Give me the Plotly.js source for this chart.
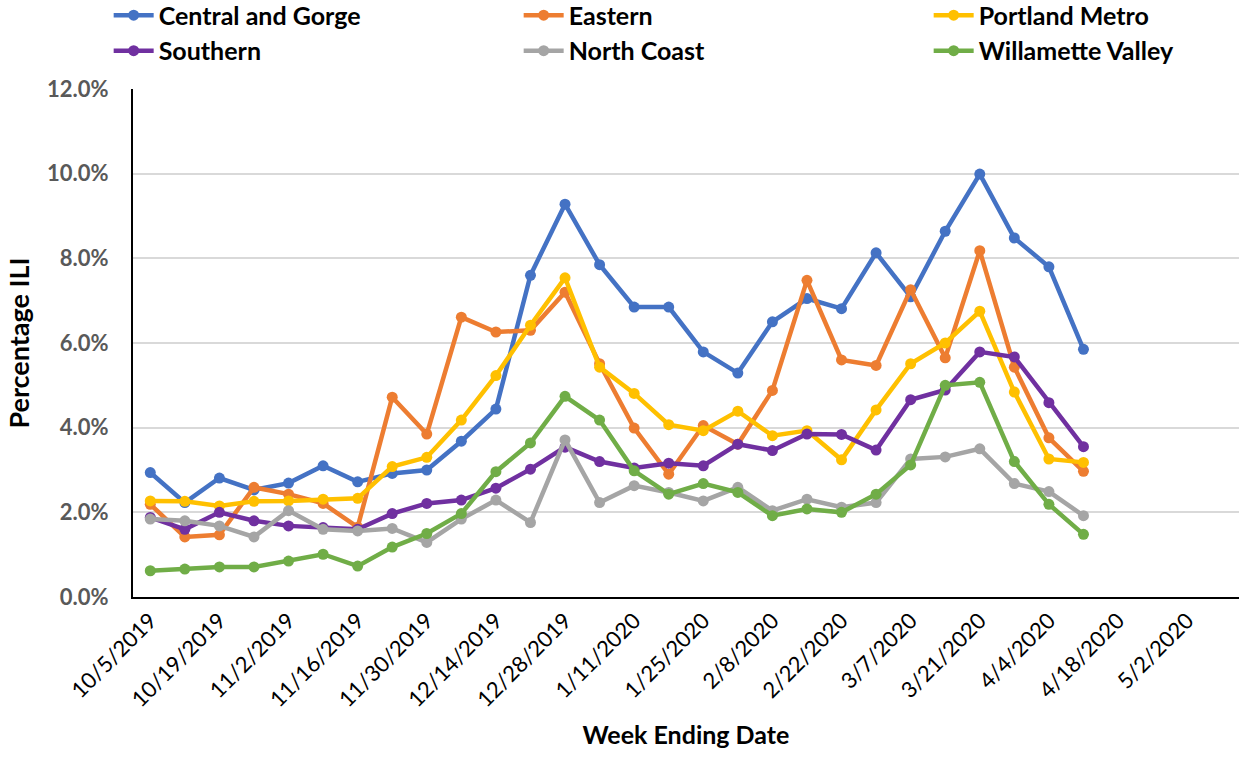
<!DOCTYPE html>
<html>
<head>
<meta charset="utf-8">
<script src="https://cdn.plot.ly/plotly-3.0.1.min.js"></script>
<style>html,body{margin:0;padding:0;background:#fff;}#chart{width:1239px;height:757px;}</style>
</head>
<body>
<div id="chart"></div>
<script>
const weeks = ["2019-10-05","2019-10-12","2019-10-19","2019-10-26","2019-11-02","2019-11-09","2019-11-16","2019-11-23","2019-11-30","2019-12-07","2019-12-14","2019-12-21","2019-12-28","2020-01-04","2020-01-11","2020-01-18","2020-01-25","2020-02-01","2020-02-08","2020-02-15","2020-02-22","2020-02-29","2020-03-07","2020-03-14","2020-03-21","2020-03-28","2020-04-04","2020-04-11"];

const centralGorge = [2.94,2.23,2.81,2.53,2.69,3.10,2.72,2.92,3.00,3.68,4.44,7.60,9.28,7.85,6.85,6.85,5.79,5.29,6.50,7.05,6.81,8.13,7.09,8.64,9.99,8.48,7.80,5.85];
const eastern      = [2.19,1.42,1.47,2.59,2.43,2.21,1.65,4.72,3.85,6.61,6.26,6.30,7.20,5.51,3.99,2.90,4.05,3.61,4.88,7.48,5.60,5.47,7.26,5.65,8.18,5.43,3.76,2.97];
const portlandMetro= [2.27,2.26,2.15,2.26,2.27,2.31,2.33,3.08,3.30,4.18,5.23,6.42,7.54,5.43,4.81,4.07,3.93,4.39,3.81,3.93,3.24,4.42,5.51,6.00,6.75,4.84,3.26,3.18];
const southern     = [1.88,1.60,2.00,1.80,1.68,1.64,1.60,1.97,2.21,2.29,2.57,3.02,3.54,3.20,3.05,3.16,3.10,3.61,3.46,3.85,3.84,3.47,4.66,4.89,5.79,5.67,4.59,3.55];
const northCoast   = [1.84,1.80,1.68,1.42,2.04,1.60,1.56,1.62,1.29,1.84,2.29,1.76,3.71,2.23,2.63,2.47,2.27,2.59,2.04,2.31,2.12,2.23,3.26,3.31,3.50,2.68,2.49,1.92];
const willamette   = [0.62,0.66,0.71,0.71,0.85,1.01,0.73,1.18,1.50,1.97,2.96,3.64,4.74,4.18,2.98,2.43,2.68,2.47,1.92,2.08,2.00,2.43,3.12,5.00,5.07,3.20,2.19,1.48];

const tickDates = ["2019-10-05","2019-10-19","2019-11-02","2019-11-16","2019-11-30","2019-12-14","2019-12-28","2020-01-11","2020-01-25","2020-02-08","2020-02-22","2020-03-07","2020-03-21","2020-04-04","2020-04-18","2020-05-02"];
const tickLabels = ["10/5/2019","10/19/2019","11/2/2019","11/16/2019","11/30/2019","12/14/2019","12/28/2019","1/11/2020","1/25/2020","2/8/2020","2/22/2020","3/7/2020","3/21/2020","4/4/2020","4/18/2020","5/2/2020"];
const yTicks = [0,2,4,6,8,10,12];
const yTickLabels = ["0.0%","2.0%","4.0%","6.0%","8.0%","10.0%","12.0%"];

const seriesNames = ["Central and Gorge","Eastern","Portland Metro","Southern","North Coast","Willamette Valley"];
const seriesData = [centralGorge, eastern, portlandMetro, southern, northCoast, willamette];
const colors = ["#4472C4","#ED7D31","#FFC000","#7030A0","#A5A5A5","#70AD47"];

const traces = seriesNames.map((n,i)=>({
  type:'scatter', mode:'lines+markers', name:n, x:weeks, y:seriesData[i],
  line:{color:colors[i], width:4.5},
  marker:{color:colors[i], size:11}
}));

const layout = {
  width:1239, height:757,
  margin:{l:133, r:0, t:89, b:160, autoexpand:false},
  paper_bgcolor:'#fff', plot_bgcolor:'#fff',
  font:{family:'Lato, "Open Sans", sans-serif'},
  showlegend:true,
  legend:{orientation:'h', x:-0.022, xanchor:'left', y:1.19, yanchor:'top',
    font:{size:25, color:'#000', family:'Lato, sans-serif', weight:'bold'},
    entrywidth:355, itemwidth:40, tracegroupgap:0, bgcolor:'rgba(0,0,0,0)'},
  xaxis:{type:'date', range:['2019-10-01 12:00','2020-05-12 12:00'],
    tickvals:tickDates, ticktext:tickLabels, tickangle:-45,
    tickfont:{size:22, color:'#000'},
    showgrid:false, showline:true, linecolor:'#000', linewidth:2, zeroline:false,
    ticks:'', title:{text:'Week Ending Date', font:{size:25, color:'#000', weight:'bold'}, standoff:16}},
  yaxis:{range:[0,12], tickvals:yTicks, ticktext:yTickLabels,
    tickfont:{size:22, color:'#595959', weight:'bold'}, ticklabelstandoff:18,
    showgrid:true, gridcolor:'#D9D9D9', gridwidth:2, showline:true, linecolor:'#000', linewidth:2,
    zeroline:false, ticks:'',
    title:{text:'Percentage ILI', font:{size:27, color:'#000', weight:'bold'}, standoff:10}}
};

Plotly.newPlot('chart', traces, layout, {displayModeBar:false, staticPlot:true});
</script>
</body>
</html>
